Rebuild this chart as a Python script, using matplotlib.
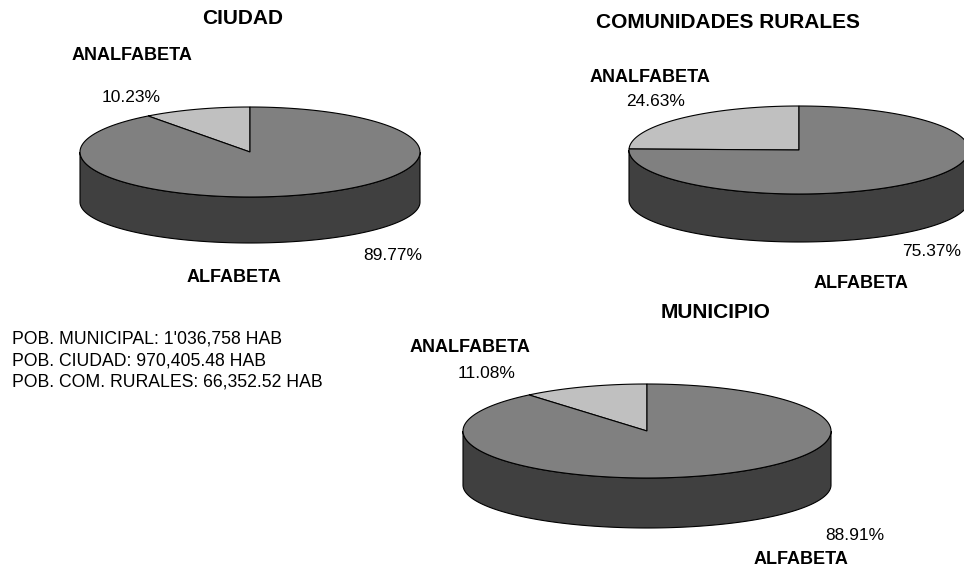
import numpy as np
import matplotlib
matplotlib.use("Agg")
import matplotlib.pyplot as plt
from matplotlib.patches import Polygon

plt.rcParams['font.family'] = ['Liberation Sans', 'DejaVu Sans']

# datos
titles = ["CIUDAD", "COMUNIDADES RURALES", "MUNICIPIO"]
analfabeta = [10.23, 24.63, 11.08]
alfabeta = [89.77, 75.37, 88.91]
slice_names = ["ANALFABETA", "ALFABETA"]
pob_text = ["POB. MUNICIPAL: 1'036,758 HAB",
            "POB. CIUDAD: 970,405.48 HAB",
            "POB. COM. RURALES: 66,352.52 HAB"]

top_colors = ["#c0c0c0", "#808080"]
side_colors = ["#606060", "#404040"]


def ellipse_pts(cx, cy, rx, ry, t0, t1, n=200):
    t = np.radians(np.linspace(t0, t1, n))
    return cx + rx * np.cos(t), cy - ry * np.sin(t)


def pie3d(ax, cx, cy, rx, ry, depth, ry_bot, values):
    total = sum(values)
    # angulos: empieza en 90 grados, sentido antihorario
    spans = []
    a = 90.0
    for v in values:
        spans.append((a, a + 360.0 * v / total))
        a += 360.0 * v / total

    # paredes laterales (mitad frontal: 180..360)
    for i, (a0, a1) in enumerate(spans):
        for off in (0, 360):
            s0 = max(a0, 180 + off)
            s1 = min(a1, 360 + off)
            if s1 > s0:
                x, y = ellipse_pts(cx, cy, rx, ry, s0, s1)
                xb, yb = ellipse_pts(cx, cy + depth, rx, ry_bot, s0, s1)
                xs = np.concatenate([x, xb[::-1]])
                ys = np.concatenate([y, yb[::-1]])
                ax.add_patch(Polygon(np.column_stack([xs, ys]), closed=True,
                                     fc=side_colors[i], ec="black", lw=0.8))

    # cara superior
    for i, (a0, a1) in enumerate(spans):
        x, y = ellipse_pts(cx, cy, rx, ry, a0, a1)
        xs = np.concatenate([[cx], x])
        ys = np.concatenate([[cy], y])
        ax.add_patch(Polygon(np.column_stack([xs, ys]), closed=True,
                             fc=top_colors[i], ec="black", lw=0.8))


fig = plt.figure(figsize=(9.64, 5.73), dpi=100)
ax = fig.add_axes([0, 0, 1, 1])
ax.set_xlim(0, 964)
ax.set_ylim(573, 0)
ax.axis("off")

pies = [
    # cx, cy, rx, ry, depth, ry_bot
    (250, 152, 170, 45, 50, 41),
    (799, 150, 170, 44, 50, 42),
    (647, 431, 184, 47, 54, 43),
]

for k, (cx, cy, rx, ry, d, rb) in enumerate(pies):
    pie3d(ax, cx, cy, rx, ry, d, rb, [analfabeta[k], alfabeta[k]])

# titulos y etiquetas
title_pos = [(243, 18), (728, 22), (716, 312)]
anal_name_pos = [(132, 55), (650, 78), (470, 347)]
anal_pct_pos = [(131, 97), (656, 102), (487, 373)]
alf_pct_pos = [(393, 255), (932, 252), (855, 536)]
alf_name_pos = [(234, 278), (861, 283), (801, 559)]

for k in range(3):
    ax.text(*title_pos[k], titles[k], ha="center", va="center",
            fontsize=15, fontweight="bold")
    ax.text(*anal_name_pos[k], slice_names[0], ha="center", va="center",
            fontsize=13, fontweight="bold")
    ax.text(*anal_pct_pos[k], f"{analfabeta[k]:.2f}%", ha="center", va="center",
            fontsize=12.5)
    ax.text(*alf_pct_pos[k], f"{alfabeta[k]:.2f}%", ha="center", va="center",
            fontsize=12.5)
    ax.text(*alf_name_pos[k], slice_names[1], ha="center", va="center",
            fontsize=13, fontweight="bold")

for i, line in enumerate(pob_text):
    ax.text(12, 339 + 21.5 * i, line, ha="left", va="center", fontsize=12.7)

fig.savefig("out.png", dpi=100, facecolor="white")
